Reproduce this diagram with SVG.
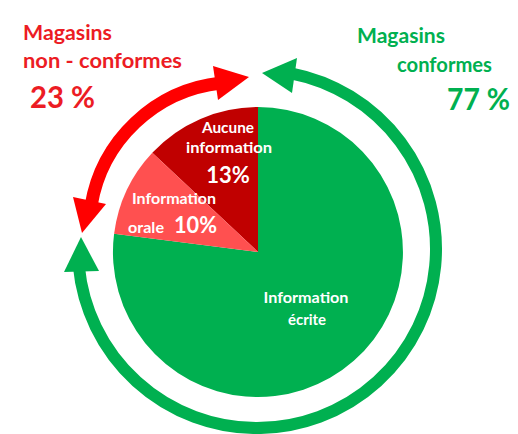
<svg xmlns="http://www.w3.org/2000/svg" width="518" height="434" viewBox="0 0 518 434">
<style>
.t{font-family:Lato,"Liberation Sans",sans-serif;font-weight:bold}
.red{fill:#ec1c24}
.grn{fill:#00b050}
.w{fill:#ffffff}
.ra{fill:none;stroke:#ff0000;stroke-width:13}
.ga{fill:none;stroke:#00b050;stroke-width:12}
</style>
<rect width="518" height="434" fill="#ffffff"/>
<g id="pie">
<g id="ecrite">
<path d="M258,252 L114.1,233.8 A145,145 0 1 0 258,107 Z" fill="#00b050"/>
<text class="t w" x="306" y="303" font-size="15" text-anchor="middle" textLength="85" lengthAdjust="spacingAndGlyphs">Information</text>
<text class="t w" x="307" y="325" font-size="15" text-anchor="middle">écrite</text>
</g>
<g id="aucune">
<path d="M258,252 L258,107 A145,145 0 0 0 152.3,152.7 Z" fill="#c00000"/>
<text class="t w" x="228" y="133" font-size="15" text-anchor="middle" textLength="52" lengthAdjust="spacingAndGlyphs">Aucune</text>
<text class="t w" x="229" y="153" font-size="15" text-anchor="middle" textLength="86" lengthAdjust="spacingAndGlyphs">information</text>
<text class="t w" x="228" y="183" font-size="22" text-anchor="middle">13%</text>
</g>
<g id="orale">
<path d="M258,252 L152.3,152.7 A145,145 0 0 0 114.1,233.8 Z" fill="#ff5050"/>
<text class="t w" x="174" y="204" font-size="15" text-anchor="middle" textLength="84" lengthAdjust="spacingAndGlyphs">Information</text>
<text class="t w" x="128" y="233" font-size="15" textLength="36" lengthAdjust="spacingAndGlyphs">orale</text>
<text class="t w" x="174" y="233" font-size="22" textLength="43" lengthAdjust="spacingAndGlyphs">10%</text>
</g>
</g>
<g id="connectors">
<g id="arrow-non-conformes">
<path class="ra" d="M91,206 A148,148 0 0 1 221,83"/>
<polygon points="249,77 213,66 218,100" fill="#ff0000"/>
<polygon points="82,233 73,197 106,204" fill="#ff0000"/>
</g>
<g id="arrow-conformes">
<path class="ga" d="M78.8,266 A179,179 0 1 0 291,73.3"/>
<polygon points="262,73 297,58 292,93" fill="#00b050"/>
<polygon points="81,237 64,272 99,271" fill="#00b050"/>
</g>
</g>
<g id="label-non-conformes">
<text class="t red" x="23" y="40" font-size="20" textLength="89" lengthAdjust="spacingAndGlyphs">Magasins</text>
<text class="t red" x="23" y="68" font-size="20" textLength="159" lengthAdjust="spacingAndGlyphs">non - conformes</text>
<text class="t red" x="30" y="108" font-size="31" textLength="65" lengthAdjust="spacingAndGlyphs">23 %</text>
</g>
<g id="label-conformes">
<text class="t grn" x="357" y="43" font-size="20" textLength="88" lengthAdjust="spacingAndGlyphs">Magasins</text>
<text class="t grn" x="397" y="72" font-size="20" textLength="95" lengthAdjust="spacingAndGlyphs">conformes</text>
<text class="t grn" x="447" y="110" font-size="31" textLength="63" lengthAdjust="spacingAndGlyphs">77 %</text>
</g>
</svg>
